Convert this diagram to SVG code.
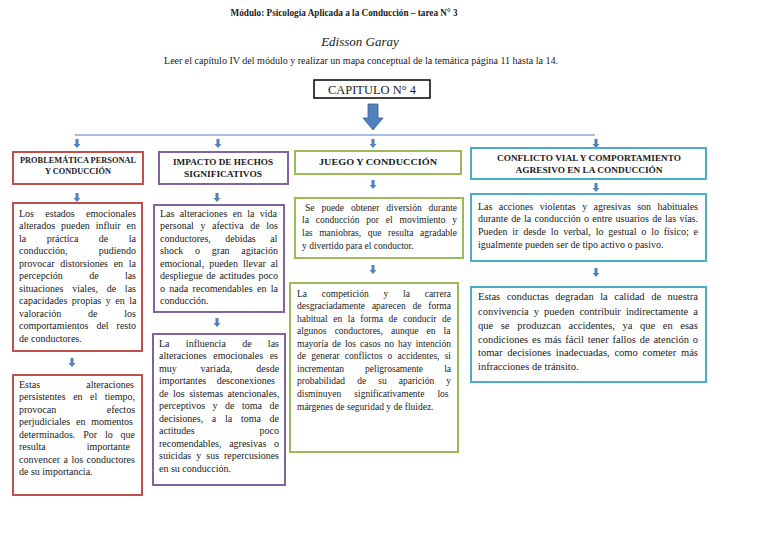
<svg xmlns="http://www.w3.org/2000/svg" xmlns:xlink="http://www.w3.org/1999/xlink" width="768" height="543" viewBox="0 0 768 543">
<defs>
<style>
.t{font-family:"Liberation Serif","Times New Roman",serif;fill:#1a1a1a}
.b{font-size:10px}
.hd{font-family:"Liberation Serif","Times New Roman",serif;font-weight:bold;fill:#1a1a1a;text-anchor:middle}
.box{fill:#fff;stroke-width:2}
.red{stroke:#c0504d}.pur{stroke:#8064a2}.grn{stroke:#9bbb59}.cyn{stroke:#4bacc6}
.arr{fill:#4f81bd}
</style>
<path id="sa" class="arr" d="M-1.5 0 h3 v5 h2 l-3.5 4 l-3.5 -4 h2 z"/>
</defs>
<rect width="768" height="543" fill="#fff"/>

<g id="title">
<text class="hd" x="344" y="16" font-size="9.5" textLength="227" lengthAdjust="spacingAndGlyphs">Módulo: Psicología Aplicada a la Conducción – tarea N° 3</text>
<text class="t" x="360" y="46" font-size="13" font-style="italic" text-anchor="middle" fill="#333">Edisson Garay</text>
<text class="t" x="164" y="64" font-size="10" textLength="394" lengthAdjust="spacingAndGlyphs">Leer el capítulo IV del módulo y realizar un mapa conceptual de la temática página 11 hasta la 14.</text>
</g>

<g id="connectors">
<path class="arr" d="M368 104 h10 v14 h5 l-10 12 l-10 -12 h5 z" stroke="#385d8a" stroke-width="0.8"/>
<line x1="75" y1="135" x2="595" y2="135" stroke="#a7bfde" stroke-width="2"/>
<use xlink:href="#sa" x="77" y="139"/>
<use xlink:href="#sa" x="218" y="139"/>
<use xlink:href="#sa" x="373" y="139"/>
<use xlink:href="#sa" x="596" y="139"/>
<use xlink:href="#sa" x="77" y="193"/>
<use xlink:href="#sa" x="217" y="193"/>
<use xlink:href="#sa" x="373" y="180"/>
<use xlink:href="#sa" x="596" y="183"/>
<use xlink:href="#sa" x="72" y="358"/>
<use xlink:href="#sa" x="217" y="318"/>
<use xlink:href="#sa" x="373" y="265"/>
<use xlink:href="#sa" x="596" y="268"/>
</g>

<g id="capitulo">
<rect x="314" y="80" width="116" height="18" fill="#fff" stroke="#000" stroke-width="1.5"/>
<text class="t" x="372" y="94" font-size="12" text-anchor="middle" textLength="88" lengthAdjust="spacingAndGlyphs">CAPITULO N° 4</text>
</g>

<g id="h1">
<rect class="box red" x="13" y="152" width="130" height="32"/>
<text class="hd" x="78" y="163" font-size="7.5" textLength="116" lengthAdjust="spacingAndGlyphs">PROBLEMÁTICA PERSONAL</text>
<text class="hd" x="78" y="174" font-size="7.5" textLength="66" lengthAdjust="spacingAndGlyphs">Y CONDUCCIÓN</text>
</g>
<g id="h2">
<rect class="box pur" x="159" y="152" width="129" height="32"/>
<text class="hd" x="223" y="164.5" font-size="9" textLength="100" lengthAdjust="spacingAndGlyphs">IMPACTO DE HECHOS</text>
<text class="hd" x="223" y="176.5" font-size="9" textLength="78" lengthAdjust="spacingAndGlyphs">SIGNIFICATIVOS</text>
</g>
<g id="h3">
<rect class="box grn" x="295" y="151" width="166" height="23"/>
<text class="hd" x="378" y="164.5" font-size="9" textLength="118" lengthAdjust="spacingAndGlyphs">JUEGO Y CONDUCCIÓN</text>
</g>
<g id="h4">
<rect class="box cyn" x="471" y="148" width="235" height="31"/>
<text class="hd" x="589" y="160.5" font-size="9" textLength="184" lengthAdjust="spacingAndGlyphs">CONFLICTO VIAL Y COMPORTAMIENTO</text>
<text class="hd" x="589" y="172.5" font-size="9" textLength="147" lengthAdjust="spacingAndGlyphs">AGRESIVO EN LA CONDUCCIÓN</text>
</g>

<g id="t1a">
<rect class="box red" x="13" y="203" width="129" height="148"/>
<g class="t b">
<text x="19" y="216.5" style="word-spacing:8.8px">Los estados emocionales</text>
<text x="19" y="229" style="word-spacing:3.36px">alterados pueden influir en</text>
<text x="19" y="241.5" style="word-spacing:18px">la práctica de la</text>
<text x="19" y="254" style="word-spacing:28.7px">conducción, pudiendo</text>
<text x="19" y="266.5" style="word-spacing:3.17px">provocar distorsiones en la</text>
<text x="19" y="279" style="word-spacing:23.8px">percepción de las</text>
<text x="19" y="291.5" style="word-spacing:6.22px">situaciones viales, de las</text>
<text x="19" y="304" style="word-spacing:2px">capacidades propias y en la</text>
<text x="19" y="316.5" style="word-spacing:24.3px">valoración de los</text>
<text x="19" y="329" style="word-spacing:5.45px">comportamientos del resto</text>
<text x="19" y="342">de conductores.</text>
</g>
</g>

<g id="t1b">
<rect class="box red" x="13" y="375" width="129" height="120"/>
<g class="t b">
<text x="19" y="387.5" style="word-spacing:43.6px">Estas alteraciones</text>
<text x="19" y="400" style="word-spacing:4.97px">persistentes en el tiempo,</text>
<text x="19" y="412.5" style="word-spacing:48px">provocan efectos</text>
<text x="19" y="425" style="word-spacing:3.4px">perjudiciales en momentos</text>
<text x="19" y="437.5" style="word-spacing:5.33px">determinados. Por lo que</text>
<text x="19" y="450" style="word-spacing:38.5px">resulta importante</text>
<text x="19" y="462.5" style="word-spacing:0.95px">convencer a los conductores</text>
<text x="19" y="475">de su importancia.</text>
</g>
</g>

<g id="t2a">
<rect class="box pur" x="154" y="205" width="130" height="107"/>
<g class="t b">
<text x="160" y="216.5" style="word-spacing:2.73px">Las alteraciones en la vida</text>
<text x="160" y="229" style="word-spacing:4.09px">personal y afectiva de los</text>
<text x="160" y="241.5" style="word-spacing:11.9px">conductores, debidas al</text>
<text x="160" y="254" style="word-spacing:9.25px">shock o gran agitación</text>
<text x="160" y="266.5" style="word-spacing:2.49px">emocional, pueden llevar al</text>
<text x="160" y="279" style="word-spacing:1.1px">despliegue de actitudes poco</text>
<text x="160" y="291.5" style="word-spacing:1.87px">o nada recomendables en la</text>
<text x="160" y="304">conducción.</text>
</g>
</g>

<g id="t2b">
<rect class="box pur" x="153" y="334" width="132" height="151"/>
<g class="t b">
<text x="159" y="346.5" style="word-spacing:13.8px">La influencia de las</text>
<text x="159" y="359" style="word-spacing:3.96px">alteraciones emocionales es</text>
<text x="159" y="371.5" style="word-spacing:21.3px">muy variada, desde</text>
<text x="159" y="384" style="word-spacing:7.96px">importantes desconexiones</text>
<text x="159" y="396.5" style="word-spacing:2.02px">de los sistemas atencionales,</text>
<text x="159" y="409" style="word-spacing:5px">perceptivos y de toma de</text>
<text x="159" y="421.5" style="word-spacing:6.19px">decisiones, a la toma de</text>
<text x="159" y="434" style="word-spacing:62.5px">actitudes poco</text>
<text x="159" y="446.5" style="word-spacing:5.16px">recomendables, agresivas o</text>
<text x="159" y="459" style="word-spacing:2.51px">suicidas y sus repercusiones</text>
<text x="159" y="472">en su conducción.</text>
</g>
</g>

<g id="t3a">
<rect class="box grn" x="295" y="198" width="168" height="60"/>
<g class="t" font-size="9.5">
<text x="305" y="210.5" style="word-spacing:4.5px">Se puede obtener diversión durante</text>
<text x="302" y="223" style="word-spacing:4.46px">la conducción por el movimiento y</text>
<text x="302" y="235.5" style="word-spacing:4.25px">las maniobras, que resulta agradable</text>
<text x="302" y="248.5">y divertido para el conductor.</text>
</g>
</g>

<g id="t3b">
<rect class="box grn" x="290" y="283" width="168" height="169"/>
<g class="t" font-size="9.5">
<text x="297" y="296.5" style="word-spacing:12.4px">La competición y la carrera</text>
<text x="297" y="309" style="word-spacing:4.47px">desgraciadamente aparecen de forma</text>
<text x="297" y="321.5" style="word-spacing:3.25px">habitual en la forma de conducir de</text>
<text x="297" y="334" style="word-spacing:5.72px">algunos conductores, aunque en la</text>
<text x="297" y="346.5" style="word-spacing:1.57px">mayoría de los casos no hay intención</text>
<text x="297" y="359" style="word-spacing:2.84px">de generar conflictos o accidentes, si</text>
<text x="297" y="371.5" style="word-spacing:18.7px">incrementan peligrosamente la</text>
<text x="297" y="384" style="word-spacing:9.75px">probabilidad de su aparición y</text>
<text x="297" y="396.5" style="word-spacing:10.6px">disminuyen significativamente los</text>
<text x="297" y="410">márgenes de seguridad y de fluidez.</text>
</g>
</g>

<g id="t4a">
<rect class="box cyn" x="471" y="194" width="235" height="67"/>
<g class="t b">
<text x="478" y="209.5" style="word-spacing:3.9px">Las acciones violentas y agresivas son habituales</text>
<text x="478" y="222" style="word-spacing:0.81px">durante de la conducción o entre usuarios de las vías.</text>
<text x="478" y="234.5" style="word-spacing:2.31px">Pueden ir desde lo verbal, lo gestual o lo físico; e</text>
<text x="478" y="247.5">igualmente pueden ser de tipo activo o pasivo.</text>
</g>
</g>

<g id="t4b">
<rect class="box cyn" x="471" y="287" width="235" height="95"/>
<g class="t" font-size="10.5">
<text x="478" y="300" style="word-spacing:3.9px">Estas conductas degradan la calidad de nuestra</text>
<text x="478" y="314.5" style="word-spacing:2.42px">convivencia y pueden contribuir indirectamente a</text>
<text x="478" y="329" style="word-spacing:5px">que se produzcan accidentes, ya que en esas</text>
<text x="478" y="342.5" style="word-spacing:1.19px">condiciones es más fácil tener fallos de atención o</text>
<text x="478" y="356" style="word-spacing:2.12px">tomar decisiones inadecuadas, como cometer más</text>
<text x="478" y="370">infracciones de tránsito.</text>
</g>
</g>
</svg>
